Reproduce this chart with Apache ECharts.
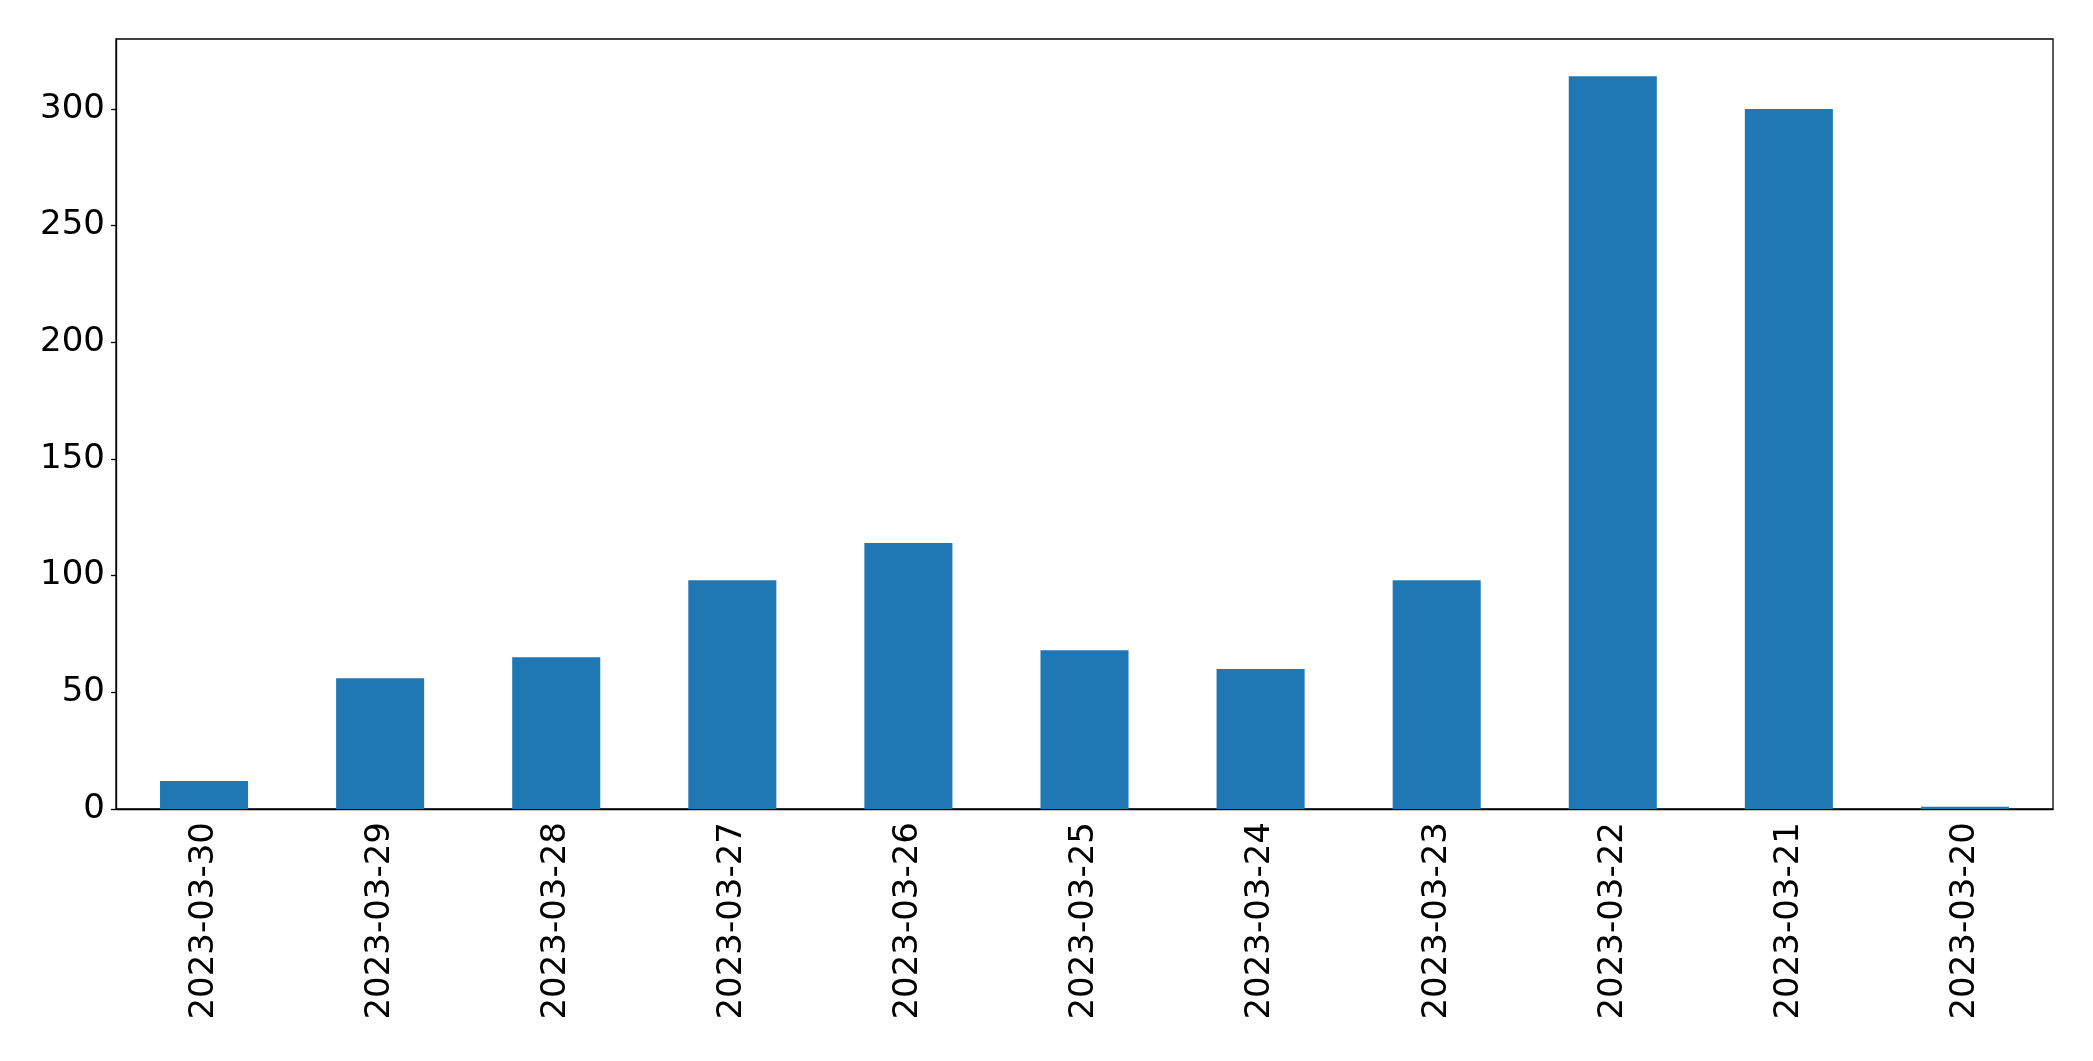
<!DOCTYPE html>
<html>
<head>
<meta charset="utf-8">
<script src="https://cdn.jsdelivr.net/npm/echarts@6/dist/echarts.min.js"></script>
<style>
  html, body { margin: 0; padding: 0; background: #fff; }
  #chart { width: 2093px; height: 1061px; }
</style>
</head>
<body>
<div id="chart"></div>
<script>
    var days = ['2023-03-30', '2023-03-29', '2023-03-28', '2023-03-27', '2023-03-26', '2023-03-25',
                '2023-03-24', '2023-03-23', '2023-03-22', '2023-03-21', '2023-03-20'];
    var counts = [12, 56, 65, 98, 114, 68, 60, 98, 314, 300, 1];
    var yTicks = [0, 50, 100, 150, 200, 250, 300];

    var myChart = echarts.init(document.getElementById('chart'));

    var option = {
        animation: false,
        backgroundColor: '#fff',
        textStyle: { fontFamily: 'DejaVu Sans' },
        grid: {
            left: 116, right: 40, top: 39, bottom: 252,
            show: true, borderColor: '#000', borderWidth: 1.3
        },
        xAxis: {
            type: 'category',
            data: days,
            boundaryGap: true,
            axisLine: { lineStyle: { color: '#000', width: 1.3 } },
            axisTick: { alignWithLabel: true, length: 5, lineStyle: { color: '#000', width: 1.3 } },
            axisLabel: { rotate: 90, margin: 13, fontSize: 34, color: '#000', fontFamily: 'DejaVu Sans' }
        },
        yAxis: {
            type: 'value',
            min: 0,
            max: 330,
            interval: 50,
            splitLine: { show: false },
            axisLine: { show: true, lineStyle: { color: '#000', width: 1.3 } },
            axisTick: { show: true, length: 5, customValues: yTicks, lineStyle: { color: '#000', width: 1.3 } },
            axisLabel: { margin: 11, fontSize: 34, color: '#000', fontFamily: 'DejaVu Sans', customValues: yTicks }
        },
        series: [{
            type: 'bar',
            data: counts,
            barWidth: '50%',
            itemStyle: { color: '#1f77b4' }
        }]
    };

    myChart.setOption(option);
</script>
</body>
</html>
